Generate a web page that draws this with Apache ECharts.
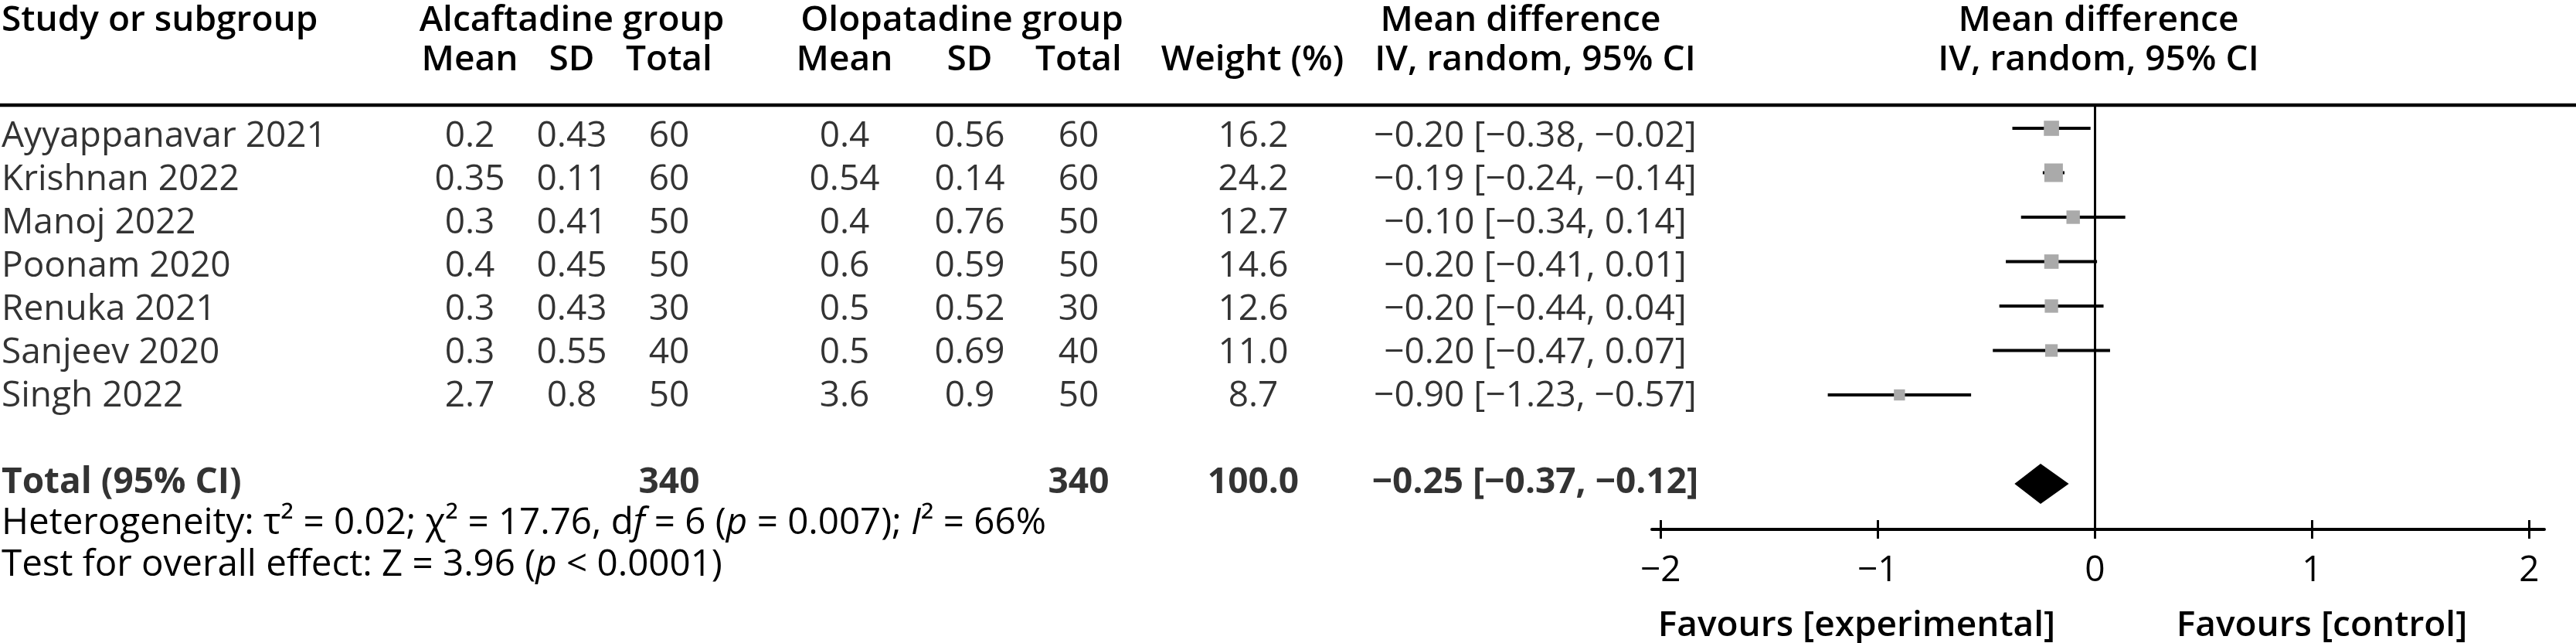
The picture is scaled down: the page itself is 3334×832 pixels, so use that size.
<!DOCTYPE html>
<html><head><meta charset="utf-8">
<script src="https://cdn.jsdelivr.net/npm/echarts@6/dist/echarts.min.js"></script>
<style>html,body{margin:0;padding:0;background:#fff}#c{width:3334px;height:832px}</style>
</head><body><div id="c"></div>
<script>
// ---------- data ----------
const studies   = ['Ayyappanavar 2021','Krishnan 2022','Manoj 2022','Poonam 2020','Renuka 2021','Sanjeev 2020','Singh 2022'];
const alcMean   = ['0.2','0.35','0.3','0.4','0.3','0.3','2.7'];
const alcSD     = ['0.43','0.11','0.41','0.45','0.43','0.55','0.8'];
const alcTotal  = [60,60,50,50,30,40,50];
const oloMean   = ['0.4','0.54','0.4','0.6','0.5','0.5','3.6'];
const oloSD     = ['0.56','0.14','0.76','0.59','0.52','0.69','0.9'];
const oloTotal  = [60,60,50,50,30,40,50];
const weights   = [16.2,24.2,12.7,14.6,12.6,11.0,8.7];
const md        = [-0.20,-0.19,-0.10,-0.20,-0.20,-0.20,-0.90];
const ciLow     = [-0.38,-0.24,-0.34,-0.41,-0.44,-0.47,-1.23];
const ciHigh    = [-0.02,-0.14,0.14,0.01,0.04,0.07,-0.57];
const totalLabel = 'Total (95% CI)';
const totalAlc = 340, totalOlo = 340, totalWeight = 100.0;
const totalMD = -0.25, totalLow = -0.37, totalHigh = -0.12;
const xTicks = [-2,-1,0,1,2];

// ---------- layout ----------
const FONT = '"Open Sans", "Noto Sans", sans-serif';
const FS = 46;
const FS_FOOT = 47.5;
const DY = 5;                              // text baseline nudge
const MK_ROW0 = 166, MK_ROWH = 57.5;      // forest plot rows
const TX_ROW0 = 171.5, TX_ROWH = 56;      // table rows
const GTOP = 138, GBOT = 685;
const TOTAL_ROW = 8;
const colX = {study:2, aMean:608, aSD:740, aTot:866, oMean:1093, oSD:1255, oTot:1396, wt:1622, ci:1987};

const minus = v => (v < 0 ? '\u2212' : '') + Math.abs(v).toFixed(2);
const ciText = (m, l, h) => `${minus(m)} [${minus(l)}, ${minus(h)}]`;

function textCol(x, texts, totalText, align) {
  const data = texts.map((t, i) => [x, i]);
  const all = texts.slice();
  if (totalText !== null) { data.push({value:[x, TOTAL_ROW], label:{fontWeight:'bold'}}); all.push(totalText); }
  return {
    type:'scatter', xAxisIndex:2, yAxisIndex:1, symbolSize:0, silent:true, clip:false,
    data,
    label:{show:true, position:'inside', align:align||'center', verticalAlign:'middle', offset:[0, DY],
      fontSize:FS, fontFamily:FONT, color:'#000', formatter:p => String(all[p.dataIndex])}
  };
}

const chart = echarts.init(document.getElementById('c'), null, {renderer:'canvas'});

const forestY = {min:(GTOP-MK_ROW0)/MK_ROWH, max:(GBOT-MK_ROW0)/MK_ROWH};
const tableY  = {min:(GTOP-TX_ROW0)/TX_ROWH, max:(GBOT-TX_ROW0)/TX_ROWH};

function hdr(text, x, y, align, bold) {
  return {type:'text', silent:true, style:{text, x, y:y+DY, align:align||'center', verticalAlign:'middle',
    fontSize:FS, fontFamily:FONT, fontWeight:bold===false?'normal':600, fill:'#000'}};
}
const richBase = {fontSize:FS_FOOT, fontFamily:FONT, fill:'#000'};

const option = {
  animation:false,
  backgroundColor:'#fff',
  grid:[
    {left:2138, width:1155, top:GTOP, height:GBOT-GTOP},
    {left:0, width:3334, top:GTOP, height:GBOT-GTOP}
  ],
  xAxis:[
    {type:'value', gridIndex:0, position:'bottom', min:-2.04, max:2.07, splitLine:{show:false},
      axisLine:{show:true, onZero:false, lineStyle:{color:'#000', width:4}},
      axisTick:{show:true, customValues:xTicks, length:12, lineStyle:{color:'#000', width:3}},
      axisLabel:{show:true, customValues:xTicks, margin:26+DY, fontSize:FS, fontFamily:FONT, color:'#000',
        formatter:v => (v < 0 ? '\u2212' + Math.abs(v) : String(v))}},
    {type:'value', gridIndex:0, position:'bottom', offset:0, min:-2.04, max:2.07, splitLine:{show:false},
      axisLine:{show:false, onZero:false},
      axisTick:{show:true, inside:true, customValues:xTicks, length:12, lineStyle:{color:'#000', width:3}},
      axisLabel:{show:false}},
    {type:'value', gridIndex:1, min:0, max:3334, show:false}
  ],
  yAxis:[
    {type:'value', gridIndex:0, inverse:true, min:forestY.min, max:forestY.max, show:false},
    {type:'value', gridIndex:1, inverse:true, min:tableY.min, max:tableY.max, show:false}
  ],
  series:[
    {type:'custom', xAxisIndex:0, yAxisIndex:0, silent:true, clip:false,
      data: studies.map((s, i) => [ciLow[i], ciHigh[i], i]),
      renderItem:(params, api) => {
        const a = api.coord([api.value(0), api.value(2)]);
        const b = api.coord([api.value(1), api.value(2)]);
        return {type:'line', shape:{x1:a[0], y1:a[1], x2:b[0], y2:b[1]}, style:{stroke:'#000', lineWidth:4}};
      },
      markLine:{silent:true, symbol:'none', label:{show:false}, lineStyle:{color:'#000', width:3, type:'solid'},
        data:[{xAxis:0}]}
    },
    {type:'scatter', xAxisIndex:0, yAxisIndex:0, silent:true, symbol:'rect',
      data: studies.map((s, i) => [md[i], i, weights[i]]),
      symbolSize: v => 4.88 * Math.sqrt(v[2]),
      itemStyle:{color:'#aaaaaa', opacity:1}
    },
    {type:'custom', xAxisIndex:0, yAxisIndex:0, silent:true, clip:false,
      data:[[totalLow, totalMD, totalHigh, TOTAL_ROW]],
      renderItem:(params, api) => {
        const l = api.coord([api.value(0), api.value(3)]);
        const m = api.coord([api.value(1), api.value(3)]);
        const h = api.coord([api.value(2), api.value(3)]);
        const hh = 26;
        return {type:'polygon', shape:{points:[[l[0], m[1]], [m[0], m[1]-hh], [h[0], m[1]], [m[0], m[1]+hh]]},
          style:{fill:'#000'}};
      }
    },
    textCol(colX.study, studies, totalLabel, 'left'),
    textCol(colX.aMean, alcMean, null),
    textCol(colX.aSD, alcSD, null),
    textCol(colX.aTot, alcTotal, totalAlc),
    textCol(colX.oMean, oloMean, null),
    textCol(colX.oSD, oloSD, null),
    textCol(colX.oTot, oloTotal, totalOlo),
    textCol(colX.wt, weights.map(w => w.toFixed(1)), totalWeight.toFixed(1)),
    textCol(colX.ci, md.map((m, i) => ciText(m, ciLow[i], ciHigh[i])), ciText(totalMD, totalLow, totalHigh))
  ],
  graphic:[
    hdr('Study or subgroup', 2, 22, 'left'),
    hdr('Alcaftadine group', 740, 22),
    hdr('Olopatadine group', 1245, 22),
    hdr('Mean difference', 1968, 22),
    hdr('Mean difference', 2716, 22),
    hdr('Mean', 608, 73), hdr('SD', 740, 73), hdr('Total', 866, 73),
    hdr('Mean', 1093, 73), hdr('SD', 1255, 73), hdr('Total', 1396, 73),
    hdr('Weight (%)', 1621, 73),
    hdr('IV, random, 95% CI', 1987, 73),
    hdr('IV, random, 95% CI', 2716, 73),
    {type:'line', silent:true, shape:{x1:0, y1:136, x2:3334, y2:136}, style:{stroke:'#000', lineWidth:4.5}},
    {type:'text', silent:true, style:{
      text:'Heterogeneity: \u03C4\u00B2 = 0.02; \u03C7\u00B2 = 17.76, d{i|f} = 6 ({i|p} = 0.007); {i|I}\u00B2 = 66%',
      x:2, y:672+DY, align:'left', verticalAlign:'middle', fontSize:FS_FOOT, fontFamily:FONT, fill:'#000',
      rich:{i:Object.assign({fontStyle:'italic'}, richBase)}}},
    {type:'text', silent:true, style:{
      text:'Test for overall effect: Z = 3.96 ({i|p} < 0.0001)',
      x:2, y:726+DY, align:'left', verticalAlign:'middle', fontSize:FS_FOOT, fontFamily:FONT, fill:'#000',
      rich:{i:Object.assign({fontStyle:'italic'}, richBase)}}},
    hdr('Favours [experimental]', 2403, 805),
    hdr('Favours [control]', 3005, 805)
  ]
};
chart.setOption(option);
</script></body></html>
